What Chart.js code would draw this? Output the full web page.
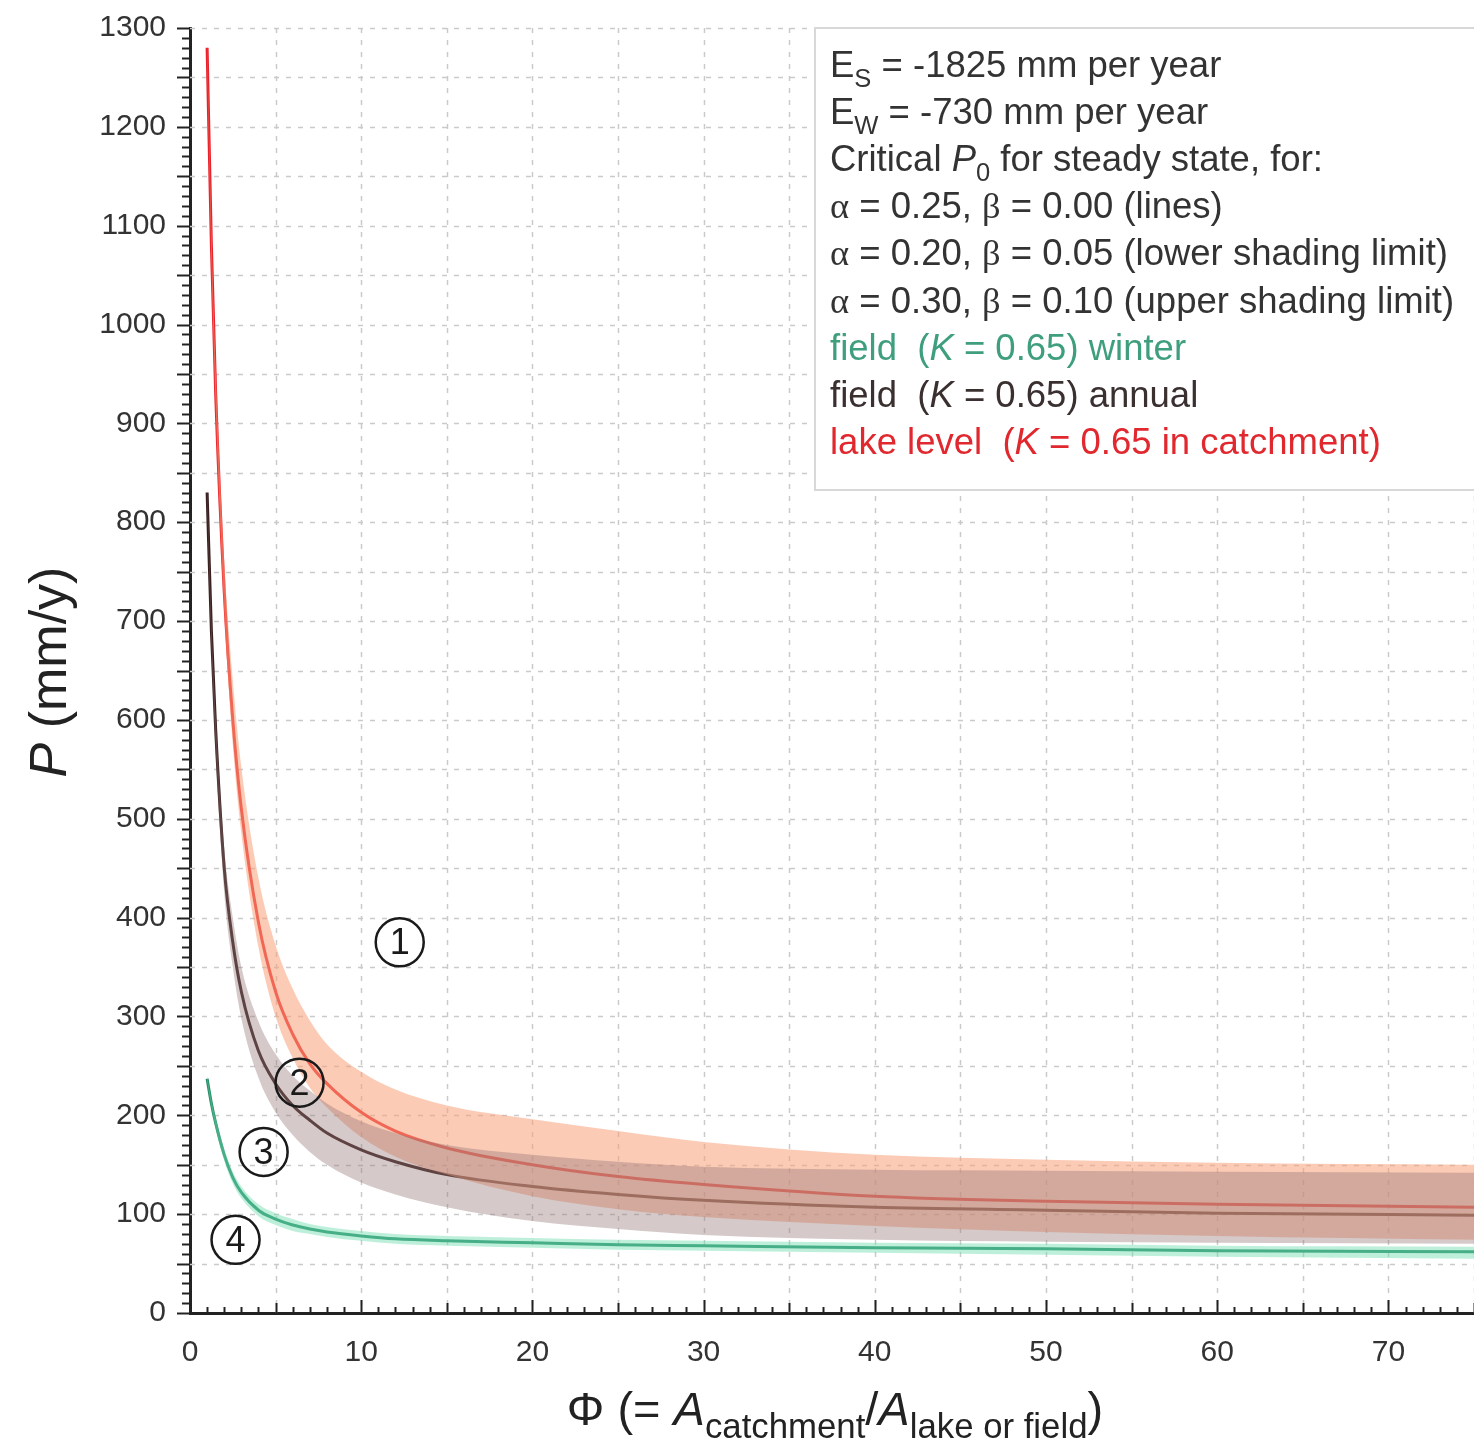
<!DOCTYPE html>
<html>
<head>
<meta charset="utf-8">
<script src="https://cdn.jsdelivr.net/npm/chart.js@4.4.1/dist/chart.umd.min.js"></script>
<style>
  html, body { margin: 0; padding: 0; background: #fff; }
  #wrap { width: 1474px; height: 1445px; }
</style>
</head>
<body>
<div id="wrap"><canvas id="grafik" width="1474" height="1445"></canvas></div>
<script>
// Phi (= A catchment / A lake or field)
const phi = [1, 1.25, 1.5, 2, 2.5, 3, 4, 5, 6, 7, 8, 10, 12, 15, 20, 25, 30, 40, 50, 60, 75];

// lake level (K = 0.65 in catchment)
const lakeLevel = [1280, 1080, 930, 730, 600, 510, 395, 325, 282, 252, 232, 203, 184, 167, 150, 138, 130, 118, 113, 110, 107];
const lakeUpper = [1285, 1095, 955, 760, 640, 552, 440, 372, 328, 296, 272, 244, 226, 210, 196, 184, 173, 160, 155, 152, 150];
const lakeLower = [1275, 1065, 915, 710, 575, 485, 370, 300, 258, 228, 208, 178, 158, 140, 118, 105, 97, 88, 82, 78, 74];

// field (K = 0.65) annual
const fieldAnnual = [830, 690, 590, 450, 375, 325, 265, 232, 210, 195, 182, 165, 153, 140, 128, 120, 114, 107, 104, 101, 99];
const annualUpper = [835, 700, 605, 470, 400, 350, 295, 262, 240, 225, 212, 194, 182, 170, 160, 153, 148, 145, 144, 143, 142];
const annualLower = [825, 675, 570, 425, 350, 298, 238, 203, 180, 163, 150, 132, 120, 107, 93, 85, 79, 74, 72, 71, 70];

// field (K = 0.65) winter
const fieldWinter = [237, 212, 192, 160, 137, 122, 104, 95, 89, 85, 82, 78, 75, 73, 71, 69, 68, 66, 65, 63, 62];
const winterUpper = [240, 216, 197, 166, 143, 128, 110, 101, 95, 90, 87, 83, 80, 78, 76, 74, 73, 71, 70, 68, 67];
const winterLower = [234, 208, 187, 154, 131, 116, 98, 89, 83, 80, 77, 73, 70, 68, 66, 64, 63, 61, 59, 57, 55];

// tick labels
const xTicks = [0, 10, 20, 30, 40, 50, 60, 70];
const yTicks = [0, 100, 200, 300, 400, 500, 600, 700, 800, 900, 1000, 1100, 1200, 1300];

// region labels (1)-(4): [label, phi, P]
const regionLabels = [['1', 12.25, 375], ['2', 6.4, 233], ['3', 4.3, 163], ['4', 2.66, 74]];

// legend text
const legendRows = [
  { color: '#333', parts: [{ t: 'E' }, { t: 'S', sub: true }, { t: ' = -1825 mm per year' }] },
  { color: '#333', parts: [{ t: 'E' }, { t: 'W', sub: true }, { t: ' = -730 mm per year' }] },
  { color: '#333', parts: [{ t: 'Critical ' }, { t: 'P', italic: true }, { t: '0', sub: true }, { t: ' for steady state, for:' }] },
  { color: '#333', parts: [{ t: 'α', serif: true }, { t: ' = 0.25, ' }, { t: 'β', serif: true }, { t: ' = 0.00 (lines)' }] },
  { color: '#333', parts: [{ t: 'α', serif: true }, { t: ' = 0.20, ' }, { t: 'β', serif: true }, { t: ' = 0.05 (lower shading limit)' }] },
  { color: '#333', parts: [{ t: 'α', serif: true }, { t: ' = 0.30, ' }, { t: 'β', serif: true }, { t: ' = 0.10 (upper shading limit)' }] },
  { color: '#3f9f7c', parts: [{ t: 'field  (' }, { t: 'K', italic: true }, { t: ' = 0.65) winter' }] },
  { color: '#3a3030', parts: [{ t: 'field  (' }, { t: 'K', italic: true }, { t: ' = 0.65) annual' }] },
  { color: '#e0282e', parts: [{ t: 'lake level  (' }, { t: 'K', italic: true }, { t: ' = 0.65 in catchment)' }] }
];

const FONT = '"Liberation Sans", Arial, sans-serif';
const SERIF = '"Liberation Serif", "Times New Roman", serif';

function titik(arr) {
  return phi.map((x, i) => ({ x: x, y: arr[i] }));
}

// tulis teks dengan subskrip / italik
function tulisRich(ctx, x, y, parts, size, color, subRatio) {
  const r = subRatio || 0.7;
  parts.forEach((p) => {
    const fs = p.sub ? size * r : size;
    ctx.font = (p.italic ? 'italic ' : '') + fs + 'px ' + (p.serif ? SERIF : FONT);
    ctx.fillStyle = color;
    ctx.fillText(p.t, x, y + (p.sub ? size * 0.28 : 0));
    x += ctx.measureText(p.t).width;
  });
  return x;
}

function lebarRich(ctx, parts, size, subRatio) {
  const r = subRatio || 0.7;
  let w = 0;
  parts.forEach((p) => {
    const fs = p.sub ? size * r : size;
    ctx.font = (p.italic ? 'italic ' : '') + fs + 'px ' + (p.serif ? SERIF : FONT);
    w += ctx.measureText(p.t).width;
  });
  return w;
}

// grid putus-putus di belakang data
const gridPlugin = {
  id: 'gridPutus',
  beforeDatasetsDraw(chart) {
    const { ctx, chartArea: a, scales: { x, y } } = chart;
    ctx.save();
    ctx.strokeStyle = '#cacaca';
    ctx.lineWidth = 1.5;
    ctx.setLineDash([5, 7]);
    for (let v = 5; v <= 75; v += 5) {
      const px = Math.round(x.getPixelForValue(v)) + 0.5;
      ctx.beginPath(); ctx.moveTo(px, a.top); ctx.lineTo(px, a.bottom); ctx.stroke();
    }
    for (let v = 50; v <= 1300; v += 50) {
      const py = Math.round(y.getPixelForValue(v)) + 0.5;
      ctx.beginPath(); ctx.moveTo(a.left, py); ctx.lineTo(a.right, py); ctx.stroke();
    }
    ctx.restore();
  }
};

// tick kecil, label daerah, kotak keterangan, judul sumbu
const hiasanPlugin = {
  id: 'hiasan',
  afterDraw(chart) {
    const { ctx, chartArea: a, scales: { x, y } } = chart;
    ctx.save();
    ctx.strokeStyle = '#222';
    ctx.lineWidth = 2;
    ctx.setLineDash([]);
    for (let v = 0; v <= 1300; v += 10) {
      const py = Math.round(y.getPixelForValue(v)) + 0.5;
      const len = v % 50 === 0 ? 13 : 8;
      ctx.beginPath(); ctx.moveTo(a.left, py); ctx.lineTo(a.left - len, py); ctx.stroke();
    }
    for (let v = 0; v <= 75; v += 1) {
      const px = Math.round(x.getPixelForValue(v)) + 0.5;
      const len = v % 10 === 0 ? 13 : (v % 5 === 0 ? 10 : 6);
      ctx.beginPath(); ctx.moveTo(px, a.bottom); ctx.lineTo(px, a.bottom - len); ctx.stroke();
    }

    // label daerah
    regionLabels.forEach(([lbl, px, py]) => {
      const cx = x.getPixelForValue(px);
      const cy = y.getPixelForValue(py);
      ctx.beginPath();
      ctx.lineWidth = 2.5;
      ctx.strokeStyle = '#1a1a1a';
      ctx.arc(cx, cy, 24, 0, Math.PI * 2);
      ctx.stroke();
      ctx.fillStyle = '#1a1a1a';
      ctx.font = '36px ' + FONT;
      ctx.textAlign = 'center';
      ctx.textBaseline = 'middle';
      ctx.fillText(lbl, cx, cy + 2);
    });

    // kotak keterangan
    ctx.textAlign = 'left';
    ctx.textBaseline = 'alphabetic';
    ctx.fillStyle = '#fff';
    ctx.fillRect(815, 28, 680, 462);
    ctx.strokeStyle = '#d8d8d8';
    ctx.lineWidth = 2;
    ctx.strokeRect(815, 28, 680, 462);
    legendRows.forEach((row, i) => {
      tulisRich(ctx, 830, 77 + i * 47.1, row.parts, 36.5, row.color);
    });

    // judul sumbu x
    const xt = [{ t: 'Φ (= ' }, { t: 'A', italic: true }, { t: 'catchment', sub: true }, { t: '/' }, { t: 'A', italic: true }, { t: 'lake or field', sub: true }, { t: ')' }];
    const w = lebarRich(ctx, xt, 47, 0.74);
    tulisRich(ctx, 835 - w / 2, 1425, xt, 47, '#222', 0.74);

    // judul sumbu y
    ctx.translate(66, 672);
    ctx.rotate(-Math.PI / 2);
    const yt = [{ t: 'P', italic: true }, { t: ' (mm/y)' }];
    const wy = lebarRich(ctx, yt, 52);
    tulisRich(ctx, -wy / 2, 0, yt, 52, '#222');
    ctx.restore();
  }
};

function pita(arr, color, fillTarget) {
  return {
    data: titik(arr),
    borderWidth: 0,
    pointRadius: 0,
    backgroundColor: color,
    fill: fillTarget,
    cubicInterpolationMode: 'monotone'
  };
}

function garis(arr, color) {
  return {
    data: titik(arr),
    borderColor: color,
    borderWidth: 3,
    pointRadius: 0,
    fill: false,
    cubicInterpolationMode: 'monotone'
  };
}

function tampilkanGrafik() {
  const canvas = document.getElementById('grafik');
  const ctx = canvas.getContext('2d');
  new Chart(ctx, {
    type: 'line',
    data: {
      datasets: [
        pita(annualUpper, 'rgba(150, 120, 120, 0.40)', '+1'),
        pita(annualLower, 'rgba(0,0,0,0)', false),
        pita(lakeUpper, 'rgba(248, 160, 120, 0.55)', '+1'),
        pita(lakeLower, 'rgba(0,0,0,0)', false),
        pita(winterUpper, 'rgba(110, 220, 175, 0.45)', '+1'),
        pita(winterLower, 'rgba(0,0,0,0)', false),
        garis(fieldWinter, '#268a66'),
        garis(fieldAnnual, '#3a2020'),
        garis(lakeLevel, '#e8232b')
      ]
    },
    options: {
      responsive: false,
      animation: false,
      devicePixelRatio: 1,
      layout: { padding: { top: 28, right: 0, bottom: 0, left: 0 } },
      plugins: { legend: { display: false }, tooltip: { enabled: false } },
      scales: {
        x: {
          type: 'linear',
          min: 0,
          max: 75,
          afterBuildTicks: (s) => { s.ticks = xTicks.map((v) => ({ value: v })); },
          afterFit: (s) => { s.height = 132; s.paddingLeft = 0; s.paddingRight = 0; },
          grid: { display: false, drawTicks: false },
          border: { display: true, color: '#222', width: 3 },
          ticks: { padding: 22, color: '#333', font: { family: FONT, size: 30 }, maxRotation: 0, callback: (v) => String(v) }
        },
        y: {
          type: 'linear',
          min: 0,
          max: 1300,
          afterBuildTicks: (s) => { s.ticks = yTicks.map((v) => ({ value: v })); },
          afterFit: (s) => { s.width = 190; s.paddingTop = 0; s.paddingBottom = 0; },
          grid: { display: false, drawTicks: false },
          border: { display: true, color: '#222', width: 3 },
          ticks: { padding: 24, color: '#333', font: { family: FONT, size: 30 }, callback: (v) => String(v) }
        }
      }
    },
    plugins: [gridPlugin, hiasanPlugin]
  });
}

document.addEventListener('DOMContentLoaded', () => {
  try {
    tampilkanGrafik();
  } catch (error) {
    console.error('Gagal menggambar grafik:', error);
  }
});
</script>
</body>
</html>
